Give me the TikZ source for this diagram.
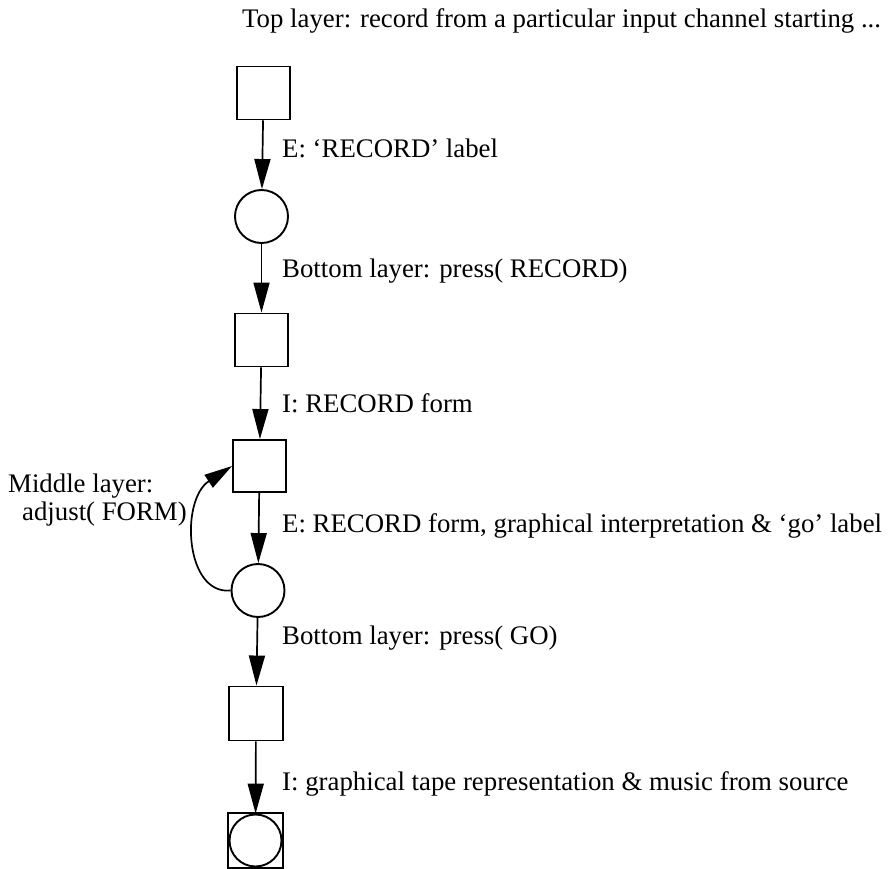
\documentclass[tikz,border=0pt]{standalone}
\usepackage{fontspec}
\setmainfont{Liberation Serif}
\usetikzlibrary{arrows.meta}
\begin{document}
\begin{tikzpicture}[x=1pt,y=-1pt,
  stbox/.style={draw,line width=1.9pt,minimum size=53pt,inner sep=0pt},
  plc/.style={draw,circle,line width=1.9pt,minimum size=53pt,inner sep=0pt},
  lbl/.style={anchor=base west,inner sep=0pt,font=\fontsize{26.8}{28}\selectfont},
  arr/.style={line width=1.7pt,-{Triangle[length=30pt,width=16pt]}}]
\useasboundingbox (0,0) rectangle (892,869);
\node[stbox] (b1) at (263.5,93) {};
\node[plc] (c1) at (261.5,216.5) {};
\node[stbox] (b2) at (261.5,340) {};
\node[stbox,minimum height=52pt] (b3) at (259.5,466) {};
\node[plc] (c2) at (258,590.5) {};
\node[stbox,minimum size=54pt] (b4) at (256,713.5) {};
\node[stbox,minimum size=55pt] (b5) at (255.5,840.5) {};
\node[plc,minimum size=52pt] (c3) at (255.5,840.5) {};
\draw[arr] (b1) -- (c1);
\draw[arr] (c1) -- (b2);
\draw[arr] (b2) -- (b3);
\draw[arr] (b3) -- (c2);
\draw[arr] (c2) -- (b4);
\draw[arr] (b4) -- (c3);
\draw[line width=1.7pt,-{Triangle[length=28pt,width=15pt]}] (c2.west) .. controls (185,595) and (180,500) .. (b3.west);
\node[lbl] (t0) at (242,28) {Top layer: record from a particular input channel starting ...};
\node[lbl] (t1) at (282,158) {E: ‘RECORD’ label};
\node[lbl] (t2) at (282,278) {Bottom layer: press( RECORD)};
\node[lbl] (t3) at (282,412) {I: RECORD form};
\node[lbl] (t4) at (282,532) {E: RECORD form, graphical interpretation \& ‘go’ label};
\node[lbl] (t5) at (282,644) {Bottom layer: press( GO)};
\node[lbl] (t6) at (282,790) {I: graphical tape representation \& music from source};
\node[anchor=base west,inner sep=0pt,align=left,font=\fontsize{26.8}{28}\selectfont] (ml) at (8,520) {Middle layer:\\\hspace*{14pt}adjust( FORM)};
\end{tikzpicture}
\end{document}
